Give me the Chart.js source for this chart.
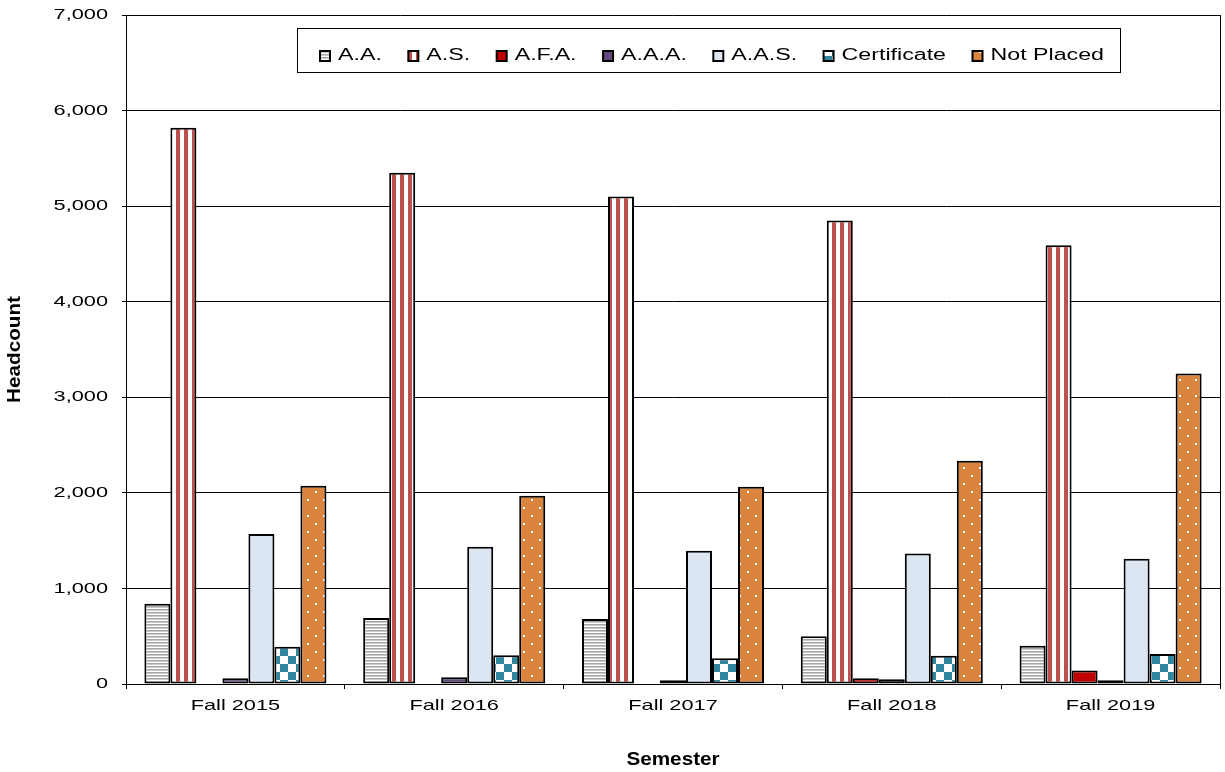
<!DOCTYPE html>
<html>
<head>
<meta charset="utf-8">
<script src="https://cdn.jsdelivr.net/npm/chart.js@4.4.1/dist/chart.umd.min.js"></script>
<style>
  html, body { margin: 0; padding: 0; background: #fff; }
  #chart { display: block; }
</style>
</head>
<body>
<canvas id="chart" width="1225" height="772"></canvas>
<script>
const semesters = ['Fall 2015', 'Fall 2016', 'Fall 2017', 'Fall 2018', 'Fall 2019'];
const aaCounts = [840, 690, 680, 500, 400];
const asCounts = [5820, 5350, 5100, 4850, 4590];
const afaCounts = [0, 0, 0, 60, 140];
const aaaCounts = [60, 70, 40, 50, 40];
const aasCounts = [1570, 1435, 1395, 1365, 1310];
const certCounts = [390, 300, 270, 295, 315];
const notPlacedCounts = [2075, 1970, 2065, 2335, 3250];
const yTicks = [0, 1000, 2000, 3000, 4000, 5000, 6000, 7000];

// small canvases used as repeating fills
function makePattern(w, h, paint) {
    const c = document.createElement('canvas');
    c.width = w;
    c.height = h;
    const g = c.getContext('2d');
    paint(g, w, h);
    return g.createPattern(c, 'repeat');
}

const hStripes = makePattern(4, 3, (g, w, h) => {
    g.fillStyle = '#fff'; g.fillRect(0, 0, w, h);
    g.fillStyle = '#a6a6a6'; g.fillRect(0, 0, w, 1.6);
});
const vStripes = makePattern(8, 4, (g, w, h) => {
    g.fillStyle = '#fff'; g.fillRect(0, 0, w, h);
    g.fillStyle = '#c0504d'; g.fillRect(0, 0, 4, h);
});
const checker = makePattern(16, 16, (g, w, h) => {
    g.fillStyle = '#fff'; g.fillRect(0, 0, w, h);
    g.fillStyle = '#31859c'; g.fillRect(0, 0, 8, 8); g.fillRect(8, 8, 8, 8);
});
const dots = makePattern(16, 16, (g, w, h) => {
    g.fillStyle = '#db843d'; g.fillRect(0, 0, w, h);
    g.fillStyle = '#fff'; g.fillRect(3, 3, 2, 2); g.fillRect(11, 11, 2, 2);
});

// the reference text is drawn wide, so stretch glyphs horizontally
const wideText = {
    id: 'wideText',
    beforeInit(chart) {
        const ctx = chart.ctx;
        const fill = ctx.fillText.bind(ctx);
        const measure = ctx.measureText.bind(ctx);
        const k = () => (ctx.font.indexOf('bold') >= 0 ? 1.15 : 1.45);
        ctx.measureText = (t) => ({ width: measure(t).width * k() });
        ctx.fillText = (t, x, y, maxW) => {
            const s = k();
            ctx.save();
            ctx.translate(x, y);
            ctx.scale(s, 1);
            if (maxW === undefined) fill(t, 0, 0); else fill(t, 0, 0, maxW / s);
            ctx.restore();
        };
    }
};

// legend sits inside the plot area with a frame around it
const LEGEND_SHIFT = 102;
const legendFrame = {
    id: 'legendFrame',
    afterLayout(chart) {
        const lg = chart.legend;
        lg.left += LEGEND_SHIFT;
        lg.right += LEGEND_SHIFT;
        lg.top += 7.5;
        lg.bottom = lg.top + 70;
        lg.height = 70;
    },
    afterDraw(chart) {
        const boxes = chart.legend.legendHitBoxes;
        if (!boxes || !boxes.length) return;
        const l = Math.min(...boxes.map(b => b.left)) - 23;
        const r = Math.max(...boxes.map(b => b.left + b.width)) + 16;
        const t = Math.min(...boxes.map(b => b.top)) - 20;
        const btm = Math.max(...boxes.map(b => b.top + b.height)) + 8;
        const ctx = chart.ctx;
        ctx.save();
        ctx.strokeStyle = '#000';
        ctx.lineWidth = 1;
        ctx.strokeRect(Math.round(l) + 0.5, Math.round(t) + 0.5, Math.round(r - l), Math.round(btm - t));
        ctx.restore();
    }
};

Chart.defaults.font.family = '"Liberation Sans", Arial, sans-serif';
Chart.defaults.color = '#000';

const series = [
    { label: 'A.A.', data: aaCounts, fill: hStripes },
    { label: 'A.S.', data: asCounts, fill: vStripes },
    { label: 'A.F.A.', data: afaCounts, fill: '#c00000' },
    { label: 'A.A.A.', data: aaaCounts, fill: '#604a7b' },
    { label: 'A.A.S.', data: aasCounts, fill: '#dce6f2' },
    { label: 'Certificate', data: certCounts, fill: checker },
    { label: 'Not Placed', data: notPlacedCounts, fill: dots },
];

new Chart(document.getElementById('chart'), {
    type: 'bar',
    data: {
        labels: semesters,
        datasets: series.map(s => ({
            label: s.label,
            data: s.data,
            backgroundColor: s.fill,
            borderColor: '#000',
            borderWidth: 2,
            borderSkipped: false,
            categoryPercentage: 0.832,
            barPercentage: 1.0,
        })),
    },
    plugins: [wideText, legendFrame],
    options: {
        responsive: false,
        animation: false,
        layout: { padding: { top: 14, right: 5, left: 0, bottom: 0 } },
        plugins: {
            legend: {
                position: 'top',
                maxHeight: 1,
                labels: {
                    font: { size: 16 },
                    boxWidth: 10,
                    boxHeight: 10,
                    padding: 26.5,
                },
            },
            tooltip: { enabled: false },
        },
        scales: {
            x: {
                grid: { drawOnChartArea: false, tickLength: 5, color: '#000' },
                border: { color: '#000' },
                ticks: { font: { size: 15 }, padding: 8, maxRotation: 0 },
                title: {
                    display: true,
                    text: 'Semester',
                    font: { size: 18, weight: 'bold' },
                    padding: { top: 4, bottom: 1 },
                },
                afterFit: (s) => { s.height = 88; },
            },
            y: {
                min: yTicks[0],
                max: yTicks[yTicks.length - 1],
                afterBuildTicks: (s) => { s.ticks = yTicks.map(v => ({ value: v })); },
                grid: { color: '#000', tickLength: 4 },
                border: { color: '#000' },
                ticks: {
                    font: { size: 15 },
                    padding: 14,
                    callback: (v) => v.toLocaleString('en-US'),
                },
                title: {
                    display: true,
                    text: 'Headcount',
                    font: { size: 18, weight: 'bold' },
                    padding: { top: 4, bottom: 1 },
                },
                afterFit: (s) => {
                    s.width = 126;
                    s.paddingTop = 0;
                    s.paddingBottom = 0;
                },
            },
            y2: {
                position: 'right',
                grid: { display: false },
                ticks: { display: false },
                border: { display: true, color: '#000' },
                afterFit: (s) => { s.width = 0; },
            },
        },
    },
});
</script>
</body>
</html>
